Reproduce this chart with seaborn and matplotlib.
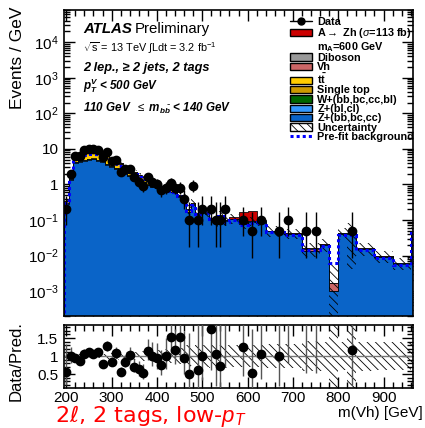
import numpy as np
import pandas as pd
import matplotlib
matplotlib.use("Agg")
import matplotlib.pyplot as plt
from matplotlib.patches import Patch
from matplotlib.lines import Line2D
from matplotlib.ticker import MultipleLocator, LogLocator, FuncFormatter, NullFormatter, FixedLocator
import seaborn as sns

sns.set_theme(style="ticks", rc={"axes.edgecolor": "black", "xtick.color": "black",
                                 "ytick.color": "black", "text.color": "black",
                                 "axes.labelcolor": "black"})
plt.rcParams["font.family"] = ["Liberation Sans", "DejaVu Sans"]
plt.rcParams["mathtext.fontset"] = "custom"
plt.rcParams["mathtext.rm"] = "Liberation Sans"
plt.rcParams["mathtext.it"] = "Liberation Sans:italic"
plt.rcParams["mathtext.bf"] = "Liberation Sans:bold"
plt.rcParams["mathtext.bfit"] = "Liberation Sans:bold:italic"
plt.rcParams["hatch.linewidth"] = 0.6

# ---------------- data ----------------
bin_edges = list(range(195, 546, 10)) + [560, 580, 600, 620, 640, 680, 720, 760, 780,
                                        800, 820, 840, 880, 920, 960, 1000]

bkg_total = [0.35, 2.0, 6.5, 7.6, 8.5, 9.0, 9.0, 8.3, 7.5, 6.4,
             5.5, 4.6, 3.9, 3.3, 2.7, 2.25, 1.9, 1.65, 1.4, 1.2,
             1.05, 0.92, 0.8, 0.72, 0.68, 0.52, 0.42, 0.2, 0.3, 0.16,
             0.2, 0.17, 0.115, 0.095, 0.14, 0.1, 0.11, 0.08, 0.094, 0.095,
             0.05, 0.043, 0.016, 0.021, 0.0017, 0.043, 0.043, 0.016, 0.0097, 0.0062,
             0.049]

ttbar = [0.03, 0.5, 2.0, 2.8, 3.3, 3.5, 3.4, 3.2, 2.8, 2.4,
         2.0, 1.6, 1.3, 1.1, 0.85, 0.65, 0.5, 0.45, 0.38, 0.3,
         0.18, 0.12, 0.1, 0.08, 0.06, 0.04, 0.03, 0.02, 0.02, 0.01,
         0.01, 0.01, 0.005, 0.005, 0.005, 0, 0, 0, 0, 0,
         0, 0, 0, 0, 0, 0, 0, 0, 0, 0, 0]

single_top = [0.005, 0.03, 0.08, 0.1, 0.1, 0.1, 0.09, 0.08, 0.07, 0.06,
              0.05, 0.04, 0.03, 0.03, 0.02, 0.02, 0.015, 0.01, 0.01, 0.01,
              0, 0, 0, 0, 0, 0, 0, 0, 0, 0,
              0, 0, 0, 0, 0, 0, 0, 0, 0, 0,
              0, 0, 0, 0, 0, 0, 0, 0, 0, 0, 0]

w_jets = [0, 0.005, 0.01, 0.01, 0.01, 0.008, 0.008, 0.006, 0.005, 0.004,
          0, 0, 0, 0, 0, 0, 0, 0, 0, 0,
          0, 0, 0, 0, 0, 0, 0, 0, 0, 0,
          0, 0, 0, 0, 0, 0, 0, 0, 0, 0,
          0, 0, 0, 0, 0, 0, 0, 0, 0, 0, 0]

diboson = [0.01, 0.04, 0.1, 0.12, 0.13, 0.13, 0.12, 0.11, 0.1, 0.09,
           0.08, 0.07, 0.06, 0.05, 0.04, 0.035, 0.03, 0.025, 0.02, 0.02,
           0.015, 0.012, 0.01, 0.01, 0.008, 0.007, 0.006, 0.004, 0.004, 0.003,
           0.003, 0.003, 0.002, 0.002, 0.002, 0.002, 0.002, 0.0015, 0.0015, 0.001,
           0.001, 0.0008, 0.0004, 0.0004, 0.0, 0.0005, 0.0005, 0.0003, 0.0002, 0.0001,
           0.0005]

vh = [0.005, 0.03, 0.06, 0.07, 0.07, 0.07, 0.06, 0.06, 0.05, 0.05,
      0.04, 0.035, 0.03, 0.025, 0.02, 0.02, 0.015, 0.012, 0.01, 0.01,
      0.008, 0.007, 0.006, 0.005, 0.005, 0.004, 0.003, 0.003, 0.003, 0.002,
      0.002, 0.002, 0.002, 0.001, 0.001, 0.001, 0.001, 0.001, 0.001, 0.001,
      0.0005, 0.0005, 0.002, 0.0003, 0.0007, 0.0003, 0.0003, 0.0002, 0.0001, 0.0001,
      0.0003]

z_light = [0.01, 0.06, 0.2, 0.22, 0.24, 0.25, 0.24, 0.22, 0.2, 0.17,
           0.15, 0.12, 0.1, 0.09, 0.07, 0.06, 0.05, 0.045, 0.04, 0.035,
           0.03, 0.027, 0.024, 0.02, 0.02, 0.015, 0.012, 0.006, 0.009, 0.005,
           0.006, 0.005, 0.003, 0.003, 0.004, 0.003, 0.003, 0.002, 0.003, 0.003,
           0.001, 0.001, 0.0005, 0.0006, 0.0, 0.001, 0.001, 0.0005, 0.0003, 0.0002,
           0.001]

signal_azh = [0, 0, 0, 0, 0, 0, 0, 0, 0, 0,
              0, 0, 0, 0, 0, 0, 0, 0, 0, 0,
              0, 0, 0, 0, 0, 0, 0, 0, 0, 0,
              0, 0, 0, 0, 0, 0, 0.015, 0.09, 0.08, 0.008,
              0, 0, 0, 0, 0, 0, 0, 0, 0, 0, 0]

prefit_bkg = [0.3, 1.6, 5.2, 6.0, 6.6, 7.0, 7.0, 6.5, 6.0, 5.2,
              4.5, 3.8, 3.3, 2.8, 2.3, 1.95, 1.65, 1.45, 1.25, 1.08,
              0.95, 0.84, 0.73, 0.66, 0.62, 0.47, 0.38, 0.18, 0.27, 0.145,
              0.18, 0.155, 0.105, 0.086, 0.127, 0.09, 0.1, 0.072, 0.085, 0.086,
              0.045, 0.039, 0.0145, 0.019, 0.006, 0.038, 0.038, 0.0145, 0.0088, 0.0056,
              0.044]

unc_down = [0.08, 0.06, 0.05, 0.05, 0.05, 0.05, 0.05, 0.06, 0.06, 0.07,
            0.08, 0.09, 0.1, 0.1, 0.11, 0.12, 0.13, 0.14, 0.15, 0.16,
            0.17, 0.18, 0.19, 0.2, 0.21, 0.23, 0.25, 0.3, 0.27, 0.3,
            0.3, 0.3, 0.32, 0.33, 0.3, 0.32, 0.3, 0.3, 0.3, 0.3,
            0.33, 0.33, 0.42, 0.4, 1.0, 0.38, 0.9, 0.4, 0.38, 0.38,
            0.35]
unc_up = [0.08, 0.06, 0.05, 0.05, 0.05, 0.05, 0.05, 0.06, 0.06, 0.07,
          0.08, 0.09, 0.1, 0.1, 0.11, 0.12, 0.13, 0.14, 0.15, 0.16,
          0.17, 0.18, 0.19, 0.2, 0.21, 0.23, 0.25, 0.3, 0.27, 0.3,
          0.3, 0.3, 0.32, 0.33, 0.3, 0.32, 0.3, 0.3, 0.3, 0.3,
          0.33, 0.33, 0.42, 0.4, 3.0, 0.38, 0.9, 0.4, 0.38, 0.38,
          0.35]

data_mass = [200, 210, 220, 230, 240, 250, 260, 270, 280, 290,
             300, 310, 320, 330, 340, 350, 360, 370, 380, 390,
             400, 410, 420, 430, 440, 450, 460, 470, 480, 490,
             500, 520, 530, 540, 550,
             590, 610, 630, 670, 690, 730, 750, 830]
data_width = [10] * 35 + [20] * 8
data_events = [2, 20, 61, 65, 91, 100, 96, 92, 59, 82,
               46, 50, 22, 28, 28, 16, 12, 9, 16, 12,
               10, 7, 8, 11, 8, 8, 4, 1, 9, 1,
               2, 2, 1, 1, 2,
               2, 1, 2, 1, 2, 1, 1, 1]

# Garwood 68% Poisson intervals for small counts
garwood_lo = [0, 0.173, 0.708, 1.367, 2.086, 2.840, 3.620, 4.419, 5.232, 6.057, 6.891, 7.734, 8.585]
garwood_hi = [1.841, 3.300, 4.638, 5.918, 7.163, 8.382, 9.584, 10.77, 11.95, 13.11, 14.27, 15.42, 16.56]

# ---------------- derived ----------------
edges = np.array(bin_edges, dtype=float)
centers = 0.5 * (edges[:-1] + edges[1:])
tot = np.array(bkg_total)
others = np.array(z_light) + np.array(w_jets) + np.array(single_top) + np.array(ttbar) + np.array(vh) + np.array(diboson)
z_heavy = np.clip(tot - others, 1e-9, None)

layers = [
    ("Z+(bb,bc,cc)", z_heavy, "#0a64c8"),
    ("Z+(bl,cl)", np.array(z_light), "#3399ff"),
    ("W+(bb,bc,cc,bl)", np.array(w_jets), "#006600"),
    ("Single top", np.array(single_top), "#cc9900"),
    ("tt", np.array(ttbar), "#ffcc00"),
    ("Vh", np.array(vh), "#cc6666"),
    ("Diboson", np.array(diboson), "#999999"),
    ("AZh", np.array(signal_azh), "#cc0000"),
]
cum = np.cumsum([l[1] for l in layers], axis=0)

N = np.array(data_events, dtype=float)
w = np.array(data_width, dtype=float)
xm = np.array(data_mass, dtype=float)
lo = np.array([garwood_lo[int(n)] if n < len(garwood_lo) else n + 0.5 - np.sqrt(n + 0.25) for n in N])
hi = np.array([garwood_hi[int(n)] if n < len(garwood_hi) else n + 0.5 + np.sqrt(n + 0.25) for n in N])
yd = N / w
yd_lo = (N - lo) / w
yd_hi = (hi - N) / w
idx = np.searchsorted(edges, xm, side="right") - 1
pred = tot[idx]
ratio = yd / pred
r_lo = yd_lo / pred
r_hi = yd_hi / pred

def ext(a):
    a = np.asarray(a, dtype=float)
    return np.append(a, a[-1])

# ---------------- figure ----------------
fig = plt.figure(figsize=(4.25, 4.28), dpi=100)
ax = fig.add_axes([0.1506, 0.2617, 0.8212, 0.7149])
rax = fig.add_axes([0.1506, 0.0935, 0.8212, 0.1472])

for k in reversed(range(len(layers))):
    df = pd.DataFrame({"m": centers, "w": cum[k]})
    sns.histplot(data=df, x="m", weights="w", bins=[float(e) for e in edges],
                 element="step", fill=True, color=layers[k][2], edgecolor="black",
                 linewidth=0.55, alpha=1, ax=ax)

ax.fill_between(edges, ext(tot * (1 - np.array(unc_down))), ext(tot * (1 + np.array(unc_up))),
                step="post", facecolor="none", edgecolor="black", hatch="\\\\\\\\", linewidth=0)
ax.stairs(prefit_bkg, edges, color="#0000ff", linestyle=(0, (1.0, 1.0)), linewidth=2.2)

ax.errorbar(xm, yd, yerr=[yd_lo, yd_hi], fmt="o", color="black", ms=6, lw=1.0,
            capsize=0, zorder=10)

ax.set_yscale("log")
ax.set_ylim(2e-4, 8e4)
ax.set_xlim(195, 965)

def yfmt(v, p):
    e = int(round(np.log10(v)))
    if e == 0:
        return "1"
    if e == 1:
        return "10"
    return r"$10^{%d}$" % e

ax.yaxis.set_major_locator(LogLocator(base=10, numticks=20))
ax.yaxis.set_minor_locator(LogLocator(base=10, subs=np.arange(2, 10), numticks=200))
ax.yaxis.set_major_formatter(FuncFormatter(yfmt))
ax.yaxis.set_minor_formatter(NullFormatter())
ax.xaxis.set_major_locator(MultipleLocator(100))
ax.xaxis.set_minor_locator(MultipleLocator(20))
ax.tick_params(axis="both", which="both", direction="in", top=True, right=True,
               labelbottom=False, labelsize=11, pad=4, width=1.0)
ax.tick_params(which="major", length=8)
ax.tick_params(which="minor", length=4)
ax.set_xlabel("")
ax.set_ylabel("Events / GeV", fontsize=12.5, loc="top")
ax.yaxis.set_label_coords(-0.112, 1.01)
for s in ax.spines.values():
    s.set_linewidth(1.2)

# texts
ax.text(0.054, 0.925, "ATLAS", transform=ax.transAxes, fontsize=10.8,
        fontweight="bold", fontstyle="italic")
ax.text(0.204, 0.925, "Preliminary", transform=ax.transAxes, fontsize=10.8)
ax.text(0.054, 0.863, r"$\sqrt{\mathrm{s}}$ = 13 TeV $\int$Ldt = 3.2 fb$^{-1}$",
        transform=ax.transAxes, fontsize=7.8)
ax.text(0.054, 0.800, "2 lep., \u2265 2 jets, 2 tags", transform=ax.transAxes,
        fontsize=9.2, fontweight="bold", fontstyle="italic")
ax.text(0.054, 0.739, r"$\mathbfit{p}_{\mathbfit{T}}^{\mathbfit{V}}$ < 500 GeV",
        transform=ax.transAxes, fontsize=8.4, fontweight="bold", fontstyle="italic")
ax.text(0.054, 0.667, r"110 GeV  $\leq$ $\mathbfit{m}_{\mathbfit{b\bar{b}}}$ < 140 GeV",
        transform=ax.transAxes, fontsize=8.4, fontweight="bold", fontstyle="italic")

handles = [
    Line2D([0], [0], color="black", marker="o", ms=5, lw=1),
    Patch(facecolor="#cc0000", edgecolor="black"),
    Patch(facecolor="none", edgecolor="none"),
    Patch(facecolor="#999999", edgecolor="black"),
    Patch(facecolor="#cc6666", edgecolor="black"),
    Patch(facecolor="#ffcc00", edgecolor="black"),
    Patch(facecolor="#cc9900", edgecolor="black"),
    Patch(facecolor="#006600", edgecolor="black"),
    Patch(facecolor="#3399ff", edgecolor="black"),
    Patch(facecolor="#0a64c8", edgecolor="black"),
    Patch(facecolor="white", edgecolor="black", hatch="\\\\\\\\"),
    Line2D([0], [0], color="#0000ff", linestyle=(0, (1.0, 1.0)), lw=2.2),
]
labels = ["Data", r"A$\rightarrow$ Zh ($\sigma$=113 fb)", r"m$_{\mathbf{A}}$=600 GeV",
          "Diboson", "Vh", r"$\mathbf{t\bar{t}}$", "Single top", "W+(bb,bc,cc,bl)",
          "Z+(bl,cl)", "Z+(bb,bc,cc)", "Uncertainty", "Pre-fit background"]
ax.legend(handles, labels, loc="upper left", bbox_to_anchor=(0.648, 0.977), frameon=False,
          prop={"size": 7.8, "weight": "bold"}, labelspacing=-0.06, handlelength=2.0,
          handleheight=0.65, handletextpad=0.5, borderaxespad=0, borderpad=0)

# ---------------- ratio panel ----------------
rax.fill_between(edges, ext(1 - np.array(unc_down)), ext(1 + np.array(unc_up)), step="post",
                 facecolor="none", edgecolor="black", hatch="\\\\\\\\", linewidth=0)
rax.axhline(1.0, color="#777777", lw=1.0)
rax.errorbar(xm, ratio, yerr=[r_lo, r_hi], fmt="o", color="black", ecolor="#555555",
             ms=6, lw=1.0, capsize=0, zorder=10)
rax.set_xlim(195, 965)
rax.set_ylim(0.12, 1.86)
rax.yaxis.set_major_locator(FixedLocator([0.5, 1.0, 1.5]))
rax.yaxis.set_major_formatter(FuncFormatter(lambda v, p: "%g" % v))
rax.yaxis.set_minor_locator(MultipleLocator(0.1))
rax.xaxis.set_major_locator(MultipleLocator(100))
rax.xaxis.set_minor_locator(MultipleLocator(20))
rax.tick_params(axis="both", which="both", direction="in", top=True, right=True,
                labelsize=11, width=1.0)
rax.tick_params(axis="x", pad=2)
rax.tick_params(axis="y", pad=4)
rax.tick_params(which="major", length=8)
rax.tick_params(which="minor", length=4)
rax.set_ylabel("Data/Pred.", fontsize=12)
rax.yaxis.set_label_coords(-0.115, 0.42)
for s in rax.spines.values():
    s.set_linewidth(1.2)

fig.text(0.995, 1 - 417 / 428, "m(Vh) [GeV]", ha="right", va="baseline", fontsize=11)
fig.text(55 / 425, 1 - 422 / 428, "2\u2113, 2 tags, low-$\\mathit{p}_{\\mathit{T}}$",
         color="red", fontsize=16, ha="left", va="baseline", family=["DejaVu Sans"])

fig.savefig("out.png", dpi=100)
